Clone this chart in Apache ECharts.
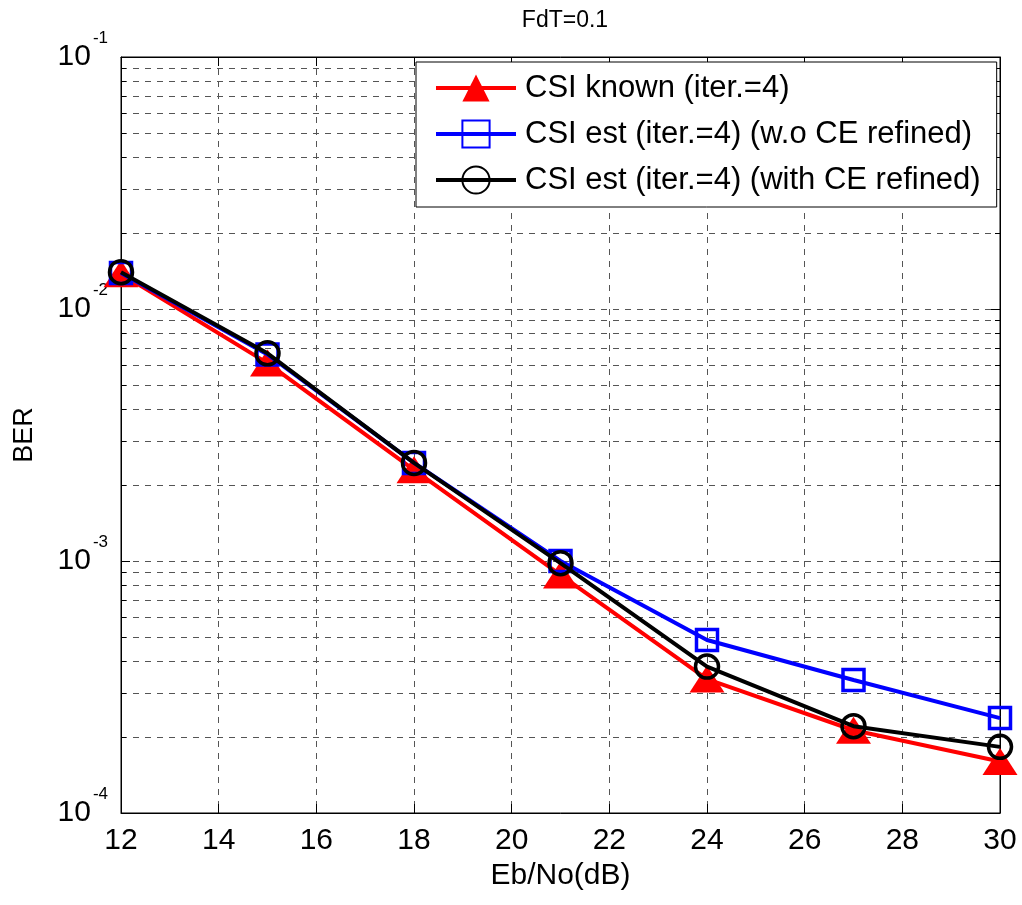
<!DOCTYPE html>
<html>
<head>
<meta charset="utf-8">
<script src="https://cdn.jsdelivr.net/npm/echarts@6/dist/echarts.min.js"></script>
<style>
html,body{margin:0;padding:0;background:#fff;}
#chart{width:1022px;height:905px;}
</style>
</head>
<body>
<div id="chart"></div>
<script>
const ebno = [12, 15, 18, 21, 24, 27, 30];
const csiKnown = [0.0138, 0.0061, 0.0023, 0.00088, 0.00034, 0.000213, 0.00016];
const csiEstNoRefine = [0.0139, 0.0066, 0.00245, 0.00100, 0.000486, 0.000337, 0.000238];
const csiEstRefined = [0.0140, 0.00667, 0.00245, 0.00098, 0.000381, 0.000221, 0.000183];
const seriesNames = ['CSI known (iter.=4)', 'CSI est (iter.=4) (w.o CE refined)', 'CSI est (iter.=4) (with CE refined)'];
const titleText = 'FdT=0.1';
const xName = 'Eb/No(dB)';
const yName = 'BER';

const FONT = "'Liberation Sans', Arial, sans-serif";
const pairs = ys => ebno.map((x, i) => [x, ys[i]]);
const gridDash = {color: '#555', width: 1, type: [6, 6]};

const chart = echarts.init(document.getElementById('chart'), null, {renderer: 'canvas'});
chart.setOption({
  backgroundColor: '#fff',
  animation: false,
  textStyle: {fontFamily: FONT},
  title: {
    text: titleText, left: 560, top: 4, textAlign: 'center',
    textStyle: {fontFamily: FONT, fontSize: 23, fontWeight: 'normal', color: '#000'}
  },
  grid: {left: 121, right: 22, top: 57, bottom: 92, show: true, borderColor: '#000', borderWidth: 1, backgroundColor: 'transparent'},
  legend: {
    orient: 'vertical', left: 416, top: 62,
    data: seriesNames,
    backgroundColor: '#fff', borderColor: '#000', borderWidth: 1,
    padding: [9, 16, 10, 18], itemGap: 12, itemWidth: 80, itemHeight: 34,
    lineStyle: {width: 4},
    textStyle: {fontFamily: FONT, fontSize: 31, lineHeight: 34, color: '#000', padding: [0, 0, 0, 4]}
  },
  xAxis: [{
    type: 'value', min: 12, max: 30, interval: 2,
    name: xName, nameLocation: 'middle', nameGap: 43,
    nameTextStyle: {fontFamily: FONT, fontSize: 30, color: '#000'},
    axisLine: {show: true, onZero: false, lineStyle: {color: '#000', width: 1}},
    axisTick: {show: true, inside: true, length: 9, lineStyle: {color: '#000'}},
    axisLabel: {fontFamily: FONT, fontSize: 30, color: '#000', margin: 13},
    splitLine: {show: true, lineStyle: gridDash}
  }, {
    type: 'value', min: 12, max: 30, interval: 2, position: 'top',
    axisLine: {show: true, onZero: false, lineStyle: {color: '#000', width: 1}},
    axisTick: {show: true, inside: true, length: 9, lineStyle: {color: '#000'}},
    axisLabel: {show: false}, splitLine: {show: false}
  }],
  yAxis: [{
    type: 'log', logBase: 10, min: 1e-4, max: 1e-1,
    name: yName, nameLocation: 'middle', nameGap: 83,
    nameTextStyle: {fontFamily: FONT, fontSize: 27, color: '#000'},
    axisLine: {show: true, onZero: false, lineStyle: {color: '#000', width: 1}},
    axisTick: {show: true, inside: true, length: 9, lineStyle: {color: '#000'}},
    minorTick: {show: true, splitNumber: 9, length: 5, lineStyle: {color: '#000'}},
    minorSplitLine: {show: true, lineStyle: gridDash},
    axisLabel: {
      margin: 13,
      formatter: v => '{b|10}{s|' + Math.round(Math.log10(v)) + '}',
      rich: {
        b: {fontFamily: FONT, fontSize: 30, lineHeight: 30, color: '#000'},
        s: {fontFamily: FONT, fontSize: 17, color: '#000', padding: [0, 0, 38, 2]}
      }
    },
    splitLine: {show: true, lineStyle: gridDash}
  }, {
    type: 'log', logBase: 10, min: 1e-4, max: 1e-1, position: 'right',
    axisLine: {show: true, onZero: false, lineStyle: {color: '#000', width: 1}},
    axisTick: {show: true, inside: true, length: 9, lineStyle: {color: '#000'}},
    minorTick: {show: true, splitNumber: 9, length: 5, lineStyle: {color: '#000'}},
    axisLabel: {show: false}, splitLine: {show: false}
  }],
  series: [{
    name: seriesNames[0], type: 'line', data: pairs(csiKnown),
    symbol: 'triangle', symbolSize: [35, 27],
    lineStyle: {color: '#ff0000', width: 4},
    itemStyle: {color: '#ff0000', borderWidth: 0},
    z: 3
  }, {
    name: seriesNames[1], type: 'line', data: pairs(csiEstNoRefine),
    symbol: 'rect', symbolSize: 21,
    lineStyle: {color: '#0000ff', width: 4},
    itemStyle: {color: 'rgba(255,255,255,0)', borderColor: '#0000ff', borderWidth: 3.5},
    z: 4
  }, {
    name: seriesNames[2], type: 'line', data: pairs(csiEstRefined),
    symbol: 'circle', symbolSize: 23,
    lineStyle: {color: '#000000', width: 4},
    itemStyle: {color: 'rgba(255,255,255,0)', borderColor: '#000000', borderWidth: 3.5},
    z: 5
  }]
});
</script>
</body>
</html>
